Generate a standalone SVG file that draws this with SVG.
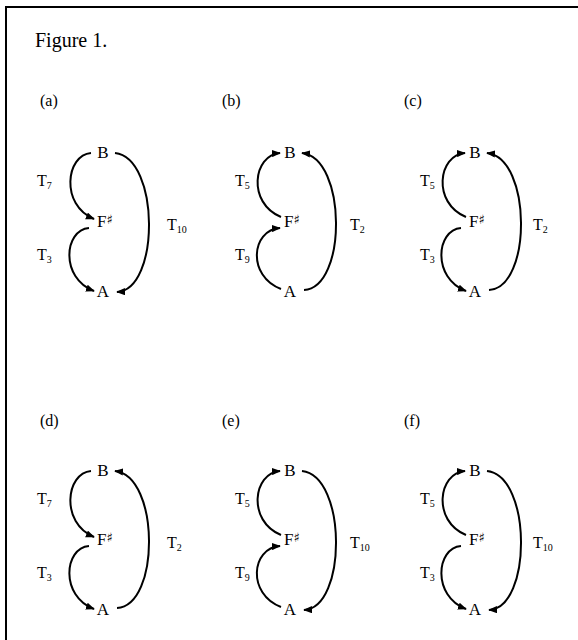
<svg xmlns="http://www.w3.org/2000/svg" width="578" height="640" viewBox="0 0 578 640">
<defs>
<style>
text{font-family:"Liberation Serif","Times New Roman",serif;fill:#000}
.n{font-size:17px;text-anchor:middle}
.fs{font-size:17px}
.sh{font-size:13px;font-family:"DejaVu Sans","Liberation Serif",sans-serif}
.t{font-size:16px}
.s{font-size:10px}
.lab{font-size:16px}
.c{fill:none;stroke:#000;stroke-width:2;marker-end:url(#ah)}
</style>
<marker id="ah" viewBox="0 0 10 8" refX="9" refY="4" markerWidth="9" markerHeight="7.5" markerUnits="userSpaceOnUse" orient="auto">
<path d="M0,0 L10,4 L0,8 z" fill="#000"/>
</marker>
<path id="tld" d="M-12,-5 C-37,-3 -43,47 -9,61"/>
<path id="tlu" d="M-9,59 C-43,45 -37,-3 -10,-5"/>
<path id="bld" d="M-14,70 C-39,72 -43,120 -9,133"/>
<path id="blu" d="M-9,131 C-43,118 -39,72 -10,70"/>
<path id="rd" d="M12,-5 C57,0 57,132 14,134"/>
<path id="ru" d="M14,132 C57,130 57,0 12,-5"/>
</defs>
<path d="M6,640 V7 H578" fill="none" stroke="#000" stroke-width="2"/>
<text x="35" y="47" style="font-size:20px">Figure 1.</text>

<!-- panel a -->
<text class="lab" x="40" y="106">(a)</text>
<g id="panel-a" transform="translate(103,158)">
<g id="a-B"><text class="n" x="0" y="0">B</text></g>
<g id="a-Fs"><text class="fs" x="-6" y="69">F<tspan class="sh" dy="-3">♯</tspan></text></g>
<g id="a-A"><text class="n" x="0" y="139">A</text></g>
<g id="a-connectors">
<use href="#tld" class="c"/><use href="#bld" class="c"/><use href="#rd" class="c"/>
<text class="t" x="-66" y="28">T<tspan class="s" dy="3">7</tspan></text>
<text class="t" x="-66" y="102">T<tspan class="s" dy="3">3</tspan></text>
<text class="t" x="64" y="72">T<tspan class="s" dy="3">10</tspan></text>
</g>
</g>

<!-- panel b -->
<text class="lab" x="222" y="106">(b)</text>
<g id="panel-b" transform="translate(290,158)">
<g id="b-B"><text class="n" x="0" y="0">B</text></g>
<g id="b-Fs"><text class="fs" x="-6" y="69">F<tspan class="sh" dy="-3">♯</tspan></text></g>
<g id="b-A"><text class="n" x="0" y="139">A</text></g>
<g id="b-connectors">
<use href="#tlu" class="c"/><use href="#blu" class="c"/><use href="#ru" class="c"/>
<text class="t" x="-55" y="28">T<tspan class="s" dy="3">5</tspan></text>
<text class="t" x="-55" y="102">T<tspan class="s" dy="3">9</tspan></text>
<text class="t" x="60" y="72">T<tspan class="s" dy="3">2</tspan></text>
</g>
</g>

<!-- panel c -->
<text class="lab" x="404" y="106">(c)</text>
<g id="panel-c" transform="translate(475,158)">
<g id="c-B"><text class="n" x="0" y="0">B</text></g>
<g id="c-Fs"><text class="fs" x="-6" y="69">F<tspan class="sh" dy="-3">♯</tspan></text></g>
<g id="c-A"><text class="n" x="0" y="139">A</text></g>
<g id="c-connectors">
<use href="#tlu" class="c"/><use href="#bld" class="c"/><use href="#ru" class="c"/>
<text class="t" x="-55" y="28">T<tspan class="s" dy="3">5</tspan></text>
<text class="t" x="-55" y="102">T<tspan class="s" dy="3">3</tspan></text>
<text class="t" x="58" y="72">T<tspan class="s" dy="3">2</tspan></text>
</g>
</g>

<!-- panel d -->
<text class="lab" x="40" y="426">(d)</text>
<g id="panel-d" transform="translate(103,476)">
<g id="d-B"><text class="n" x="0" y="0">B</text></g>
<g id="d-Fs"><text class="fs" x="-6" y="69">F<tspan class="sh" dy="-3">♯</tspan></text></g>
<g id="d-A"><text class="n" x="0" y="139">A</text></g>
<g id="d-connectors">
<use href="#tld" class="c"/><use href="#bld" class="c"/><use href="#ru" class="c"/>
<text class="t" x="-66" y="28">T<tspan class="s" dy="3">7</tspan></text>
<text class="t" x="-66" y="102">T<tspan class="s" dy="3">3</tspan></text>
<text class="t" x="64" y="72">T<tspan class="s" dy="3">2</tspan></text>
</g>
</g>

<!-- panel e -->
<text class="lab" x="222" y="426">(e)</text>
<g id="panel-e" transform="translate(290,476)">
<g id="e-B"><text class="n" x="0" y="0">B</text></g>
<g id="e-Fs"><text class="fs" x="-6" y="69">F<tspan class="sh" dy="-3">♯</tspan></text></g>
<g id="e-A"><text class="n" x="0" y="139">A</text></g>
<g id="e-connectors">
<use href="#tlu" class="c"/><use href="#blu" class="c"/><use href="#rd" class="c"/>
<text class="t" x="-55" y="28">T<tspan class="s" dy="3">5</tspan></text>
<text class="t" x="-55" y="102">T<tspan class="s" dy="3">9</tspan></text>
<text class="t" x="60" y="72">T<tspan class="s" dy="3">10</tspan></text>
</g>
</g>

<!-- panel f -->
<text class="lab" x="404" y="426">(f)</text>
<g id="panel-f" transform="translate(475,476)">
<g id="f-B"><text class="n" x="0" y="0">B</text></g>
<g id="f-Fs"><text class="fs" x="-6" y="69">F<tspan class="sh" dy="-3">♯</tspan></text></g>
<g id="f-A"><text class="n" x="0" y="139">A</text></g>
<g id="f-connectors">
<use href="#tlu" class="c"/><use href="#bld" class="c"/><use href="#rd" class="c"/>
<text class="t" x="-55" y="28">T<tspan class="s" dy="3">5</tspan></text>
<text class="t" x="-55" y="102">T<tspan class="s" dy="3">3</tspan></text>
<text class="t" x="58" y="72">T<tspan class="s" dy="3">10</tspan></text>
</g>
</g>
</svg>
